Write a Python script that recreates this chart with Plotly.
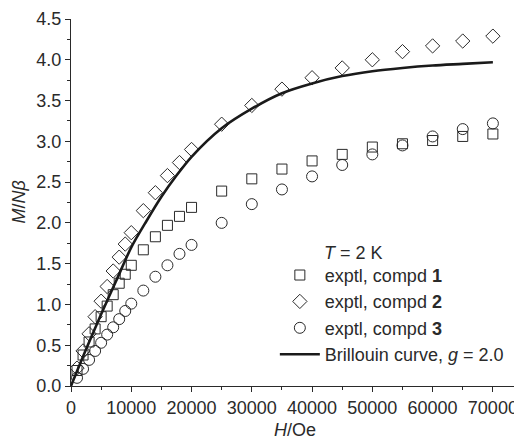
import plotly.graph_objects as go

# Field values (Oe)
H_low = [1000, 2000, 3000, 4000, 5000, 6000, 7000, 8000, 9000, 10000]
H_high = [12000, 14000, 16000, 18000, 20000, 25000, 30000, 35000, 40000,
          45000, 50000, 55000, 60000, 65000, 70000]
H_pts = H_low + H_high

compd1 = [0.19, 0.38, 0.54, 0.70, 0.85, 0.98, 1.12, 1.26, 1.37, 1.48,
          1.67, 1.83, 1.97, 2.08, 2.19, 2.39, 2.54, 2.66, 2.76, 2.84,
          2.93, 2.97, 3.01, 3.06, 3.09]
compd2 = [0.22, 0.43, 0.64, 0.85, 1.04, 1.22, 1.41, 1.58, 1.74, 1.88,
          2.15, 2.37, 2.58, 2.74, 2.90, 3.21, 3.44, 3.64, 3.78, 3.90,
          4.00, 4.10, 4.17, 4.23, 4.29]
compd3 = [0.10, 0.21, 0.32, 0.43, 0.53, 0.63, 0.72, 0.82, 0.92, 1.01,
          1.17, 1.34, 1.48, 1.62, 1.73, 2.00, 2.23, 2.41, 2.57, 2.71,
          2.84, 2.95, 3.06, 3.15, 3.22]

H_curve = [0, 2500, 5000, 7500, 10000, 12500, 15000, 17500, 20000, 25000,
           30000, 35000, 40000, 45000, 50000, 55000, 60000, 65000, 70000]
brillouin = [0.0, 0.45, 0.88, 1.29, 1.70, 2.02, 2.32, 2.58, 2.81, 3.16,
             3.40, 3.59, 3.71, 3.80, 3.86, 3.90, 3.93, 3.95, 3.97]

x_ticks = [0, 10000, 20000, 30000, 40000, 50000, 60000, 70000]
y_ticks = [0.0, 0.5, 1.0, 1.5, 2.0, 2.5, 3.0, 3.5, 4.0, 4.5]

FONT = "Liberation Sans, Arial, Helvetica, sans-serif"
INK = "#2a2a2a"

fig = go.Figure()
fig.add_trace(go.Scatter(x=H_pts, y=compd1, mode="markers", name="exptl, compd <b>1</b>",
                         marker=dict(symbol="square-open", size=10, color=INK, line=dict(width=1, color=INK))))
fig.add_trace(go.Scatter(x=H_pts, y=compd2, mode="markers", name="exptl, compd <b>2</b>",
                         marker=dict(symbol="diamond-open", size=11, color=INK, line=dict(width=1, color=INK))))
fig.add_trace(go.Scatter(x=H_pts, y=compd3, mode="markers", name="exptl, compd <b>3</b>",
                         marker=dict(symbol="circle-open", size=11, color=INK, line=dict(width=1, color=INK))))
fig.add_trace(go.Scatter(x=H_curve, y=brillouin, mode="lines", name="Brillouin curve, <i>g</i> = 2.0",
                         line=dict(color="#1a1a1a", width=2.6, shape="spline", smoothing=0.8)))

axis_common = dict(
    showline=True, linecolor=INK, linewidth=1.3, mirror=False,
    ticks="outside", ticklen=5, tickwidth=1.2, tickcolor=INK,
    showgrid=False, zeroline=False, automargin=False,
    tickfont=dict(family=FONT, size=18, color=INK),
    minor=dict(ticks="outside", ticklen=3, tickwidth=1, tickcolor=INK),
)

fig.update_xaxes(range=[0, 74500], tickvals=x_ticks, ticktext=[str(v) for v in x_ticks],
                 minor_dtick=5000, **axis_common)
fig.update_yaxes(range=[0, 4.5], tickvals=y_ticks, ticktext=[f"{v:.1f}" for v in y_ticks],
                 minor_dtick=0.25, **axis_common)

# page body has an 8px offset; compensate in margins
OFF = 8
ML, MR, MT, MB = 71 - OFF, 2 + OFF, 19 - OFF, 53 + OFF
plot_w = 522 - ML - MR
plot_h = 439 - MT - MB

fig.update_layout(
    width=522, height=439,
    margin=dict(l=ML, r=MR, t=MT, b=MB),
    paper_bgcolor="white", plot_bgcolor="white",
    showlegend=True,
    legend=dict(x=0.454, y=0.352, xanchor="left", yanchor="top",
                bgcolor="rgba(0,0,0,0)", font=dict(family=FONT, size=18, color=INK),
                tracegroupgap=0, itemwidth=40),
    annotations=[
        dict(text="<i>T</i> = 2 K", x=(322 - 71) / plot_w, y=(386 - 253) / plot_h,
             xref="paper", yref="paper",
             xanchor="left", yanchor="middle", showarrow=False,
             font=dict(family=FONT, size=18, color=INK)),
        dict(text="<i>H</i>/Oe", x=(295 - 71) / plot_w, y=(386 - 430) / plot_h,
             xref="paper", yref="paper", xanchor="center", yanchor="middle",
             showarrow=False, font=dict(family=FONT, size=18, color=INK)),
        dict(text="<i>M</i>/<i>Nβ</i>", x=(18 - 71) / plot_w, y=0.5, xref="paper", yref="paper",
             textangle=-90, xanchor="center", yanchor="middle",
             showarrow=False, font=dict(family=FONT, size=18, color=INK)),
    ],
)

fig.write_html("out.html")
